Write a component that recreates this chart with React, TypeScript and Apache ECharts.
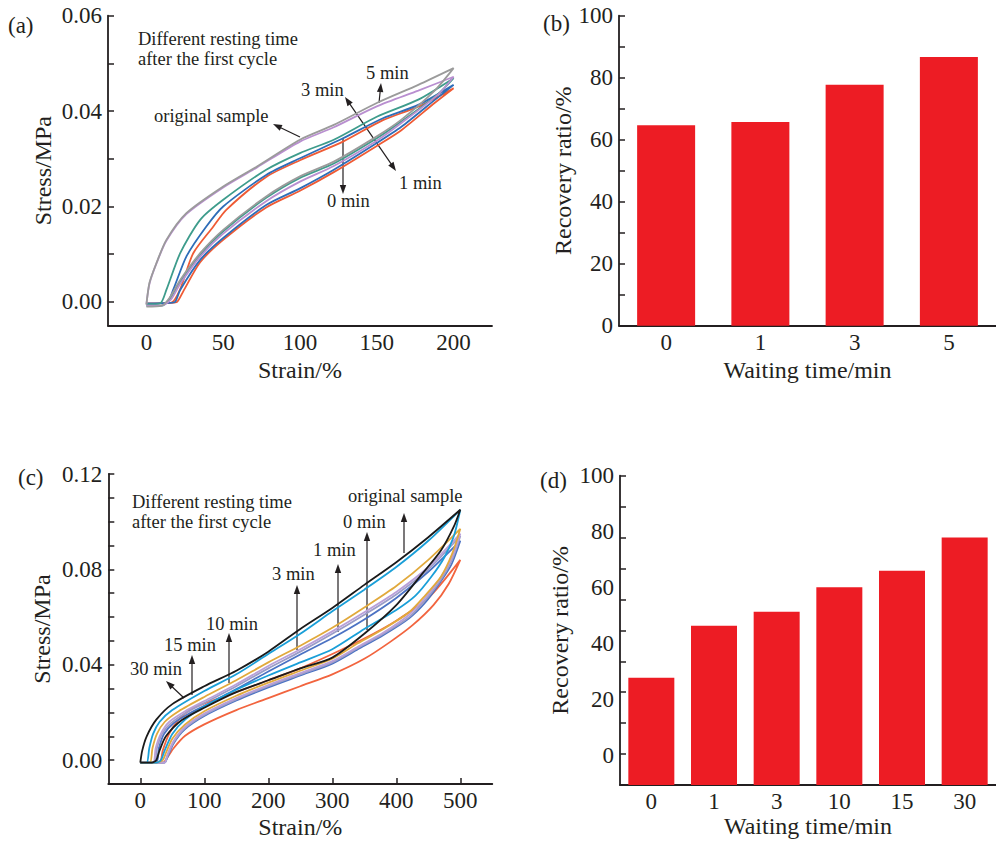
import { useEffect, useRef } from 'react';
import * as echarts from 'echarts';

const FONT = '"Liberation Serif", "Times New Roman", Times, serif';
const INK = '#231F20';
const BAR_RED = '#ED1C24';

// ---------- (a) stress-strain loops, 200 % strain ----------
const A_NAMES = ['original sample', '5 min', '3 min', '1 min', '0 min'];
const A_COLORS = ['#9B9B9B', '#B98FD0', '#3E9C8C', '#2E6DB8', '#EF5B35'];
const A_ORIGINAL = [[0, -0.0006], [2, 0.004], [6.5, 0.0081], [13, 0.013], [26, 0.0186], [50, 0.0242], [72, 0.0284], [100, 0.034], [122, 0.0371], [150, 0.0417], [177, 0.0455], [200, 0.049], [188, 0.0444], [166, 0.0382], [150, 0.0347], [122, 0.0294], [100, 0.0263], [78, 0.0221], [50, 0.0151], [35, 0.0102], [22, 0.0046], [15, 0.0008], [10, -0.0008], [0, -0.001]];
const A_5MIN = [[0, -0.0005], [2, 0.0038], [6.5, 0.008], [13, 0.0128], [26, 0.0184], [50, 0.024], [72, 0.0282], [100, 0.0336], [122, 0.0366], [150, 0.041], [177, 0.0443], [200, 0.0472], [190, 0.0435], [166, 0.0375], [150, 0.0338], [122, 0.0285], [100, 0.0252], [78, 0.0211], [50, 0.0143], [35, 0.0095], [22, 0.0038], [16, 0.0005], [10, -0.0008], [0, -0.0008]];
const A_3MIN = [[0, -0.0005], [9, -0.0003], [13, 0.0025], [22, 0.0102], [35, 0.0172], [50, 0.0214], [78, 0.0277], [100, 0.0312], [122, 0.034], [150, 0.0388], [177, 0.0424], [200, 0.0469], [190, 0.0436], [166, 0.0378], [150, 0.0343], [122, 0.029], [100, 0.026], [78, 0.0218], [50, 0.0148], [35, 0.0098], [22, 0.0042], [15, 0.0005], [10, -0.0008], [0, -0.0008]];
const A_1MIN = [[0, -0.0003], [13, -0.0002], [17.4, 0.0025], [26, 0.0095], [39, 0.0158], [50, 0.02], [78, 0.0266], [100, 0.0301], [128, 0.0343], [154, 0.0385], [177, 0.0413], [200, 0.0455], [188, 0.0424], [166, 0.0367], [150, 0.0333], [122, 0.0277], [100, 0.0238], [78, 0.0203], [50, 0.0134], [35, 0.0088], [22, 0.0025], [18.7, 0], [15, -0.0002], [0, -0.0003]];
const A_0MIN = [[0, -0.0003], [16, -0.0002], [21.8, 0.0025], [30.5, 0.0102], [43.6, 0.0158], [52, 0.0193], [78, 0.0262], [100, 0.0297], [128, 0.0336], [154, 0.0381], [177, 0.0409], [200, 0.0448], [188, 0.0418], [166, 0.036], [150, 0.0327], [122, 0.0272], [100, 0.0233], [78, 0.0198], [50, 0.013], [35, 0.0083], [24, 0.0022], [20, 0], [16, -0.0002], [0, -0.0003]];
const A_LOOPS = [A_ORIGINAL, A_5MIN, A_3MIN, A_1MIN, A_0MIN];
const A_X_LABELS = [0, 50, 100, 150, 200];
const A_Y_LABELS = [0, 0.02, 0.04, 0.06];
const A_Y_TICKS = [0, 0.01, 0.02, 0.03, 0.04, 0.05, 0.06];

// ---------- (b) recovery ratio, short rests ----------
const B_CATEGORIES = ['0', '1', '3', '5'];
const B_VALUES = [64.7, 65.7, 77.7, 86.7];
const B_Y_LABELS = [0, 20, 40, 60, 80, 100];

// ---------- (c) stress-strain loops, 500 % strain ----------
const C_NAMES = ['original sample', '30 min', '15 min', '10 min', '3 min', '1 min', '0 min'];
const C_COLORS = ['#1A1A1A', '#1A9FD8', '#E1A93C', '#B9A0D8', '#9A9CC8', '#4B72C3', '#F2643E'];
const C_ORIGINAL = [[0, -0.001], [3, 0.004], [10, 0.01], [25, 0.017], [50, 0.0235], [100, 0.031], [150, 0.0375], [200, 0.0455], [250, 0.055], [300, 0.0638], [350, 0.0735], [400, 0.083], [450, 0.0935], [500, 0.105], [490, 0.098], [470, 0.088], [440, 0.078], [400, 0.065], [350, 0.053], [300, 0.043], [250, 0.0385], [200, 0.0335], [150, 0.0285], [100, 0.022], [65, 0.0168], [40, 0.01], [30, 0.004], [25, 0], [18, -0.001], [0, -0.001]];
const C_30MIN = [[0, -0.001], [10, -0.001], [14, 0.005], [20, 0.011], [30, 0.016], [50, 0.021], [100, 0.029], [150, 0.036], [200, 0.0445], [250, 0.053], [300, 0.0624], [350, 0.0715], [400, 0.081], [450, 0.092], [500, 0.105], [490, 0.094], [475, 0.085], [455, 0.077], [430, 0.069], [400, 0.063], [350, 0.055], [300, 0.0465], [250, 0.041], [200, 0.0355], [150, 0.0295], [100, 0.0225], [70, 0.017], [50, 0.011], [38, 0.004], [32, 0], [25, -0.001], [10, -0.001]];
const C_15MIN = [[0, -0.001], [15, -0.001], [19, 0.005], [26, 0.011], [38, 0.016], [60, 0.0205], [100, 0.0265], [150, 0.0335], [200, 0.041], [250, 0.048], [300, 0.0555], [350, 0.064], [400, 0.073], [450, 0.084], [500, 0.097], [488, 0.087], [470, 0.077], [445, 0.069], [420, 0.062], [380, 0.055], [340, 0.049], [300, 0.0425], [250, 0.0375], [200, 0.0325], [150, 0.027], [100, 0.0205], [70, 0.015], [50, 0.009], [40, 0.003], [35, 0], [25, -0.001], [15, -0.001]];
const C_10MIN = [[0, -0.001], [20, -0.001], [24, 0.005], [32, 0.011], [45, 0.016], [70, 0.0205], [100, 0.0248], [150, 0.0318], [200, 0.0395], [250, 0.0465], [300, 0.054], [350, 0.062], [400, 0.0705], [450, 0.081], [500, 0.095], [487, 0.085], [468, 0.076], [445, 0.068], [420, 0.061], [380, 0.0535], [340, 0.0475], [300, 0.0415], [250, 0.0365], [200, 0.0315], [150, 0.026], [100, 0.0195], [70, 0.014], [52, 0.008], [42, 0.002], [38, -0.001], [20, -0.001]];
const C_3MIN = [[0, -0.001], [22, -0.001], [26, 0.005], [34, 0.011], [48, 0.0155], [72, 0.02], [100, 0.024], [150, 0.031], [200, 0.0385], [250, 0.0455], [300, 0.053], [350, 0.061], [400, 0.0695], [450, 0.08], [500, 0.094], [487, 0.084], [468, 0.075], [445, 0.067], [420, 0.06], [380, 0.053], [340, 0.047], [300, 0.041], [250, 0.036], [200, 0.031], [150, 0.0255], [100, 0.019], [70, 0.0135], [52, 0.0075], [42, 0.0015], [38, -0.001], [22, -0.001]];
const C_1MIN = [[0, -0.001], [25, -0.001], [29, 0.005], [37, 0.011], [52, 0.0155], [76, 0.0195], [100, 0.0228], [150, 0.0298], [200, 0.0372], [250, 0.0443], [300, 0.0512], [350, 0.059], [400, 0.068], [450, 0.079], [500, 0.092], [486, 0.082], [467, 0.074], [445, 0.066], [420, 0.0595], [380, 0.0525], [340, 0.0465], [300, 0.0405], [250, 0.0355], [200, 0.0305], [150, 0.025], [100, 0.0185], [70, 0.013], [52, 0.007], [42, 0.001], [38, -0.001], [25, -0.001]];
const C_0MIN = [[0, -0.001], [30, -0.001], [35, 0.004], [45, 0.011], [60, 0.017], [80, 0.0215], [100, 0.0238], [150, 0.0285], [200, 0.0335], [250, 0.0385], [300, 0.0445], [350, 0.051], [400, 0.0585], [450, 0.068], [500, 0.084], [482, 0.074], [458, 0.065], [425, 0.0565], [390, 0.0495], [350, 0.0425], [300, 0.036], [250, 0.031], [200, 0.026], [150, 0.021], [100, 0.015], [70, 0.0102], [52, 0.005], [42, 0.001], [36, -0.001], [30, -0.001]];
const C_LOOPS = [C_ORIGINAL, C_30MIN, C_15MIN, C_10MIN, C_3MIN, C_1MIN, C_0MIN];
const C_X_LABELS = [0, 100, 200, 300, 400, 500];
const C_Y_LABELS = [0, 0.04, 0.08, 0.12];

// ---------- (d) recovery ratio, long rests ----------
const D_CATEGORIES = ['0', '1', '3', '10', '15', '30'];
const D_VALUES = [34.7, 51.5, 56.0, 63.9, 69.3, 80.0];
const D_Y_LABELS = [0, 20, 40, 60, 80, 100];

const axisLineStyle = { color: INK, width: 1.8 };
const labelStyle = { fontFamily: FONT, fontSize: 23, color: INK };
const nameStyle = { fontFamily: FONT, fontSize: 24, color: INK };

function arrow(x1: number, y1: number, x2: number, y2: number, both = false) {
  const els: any[] = [];
  const dx = x2 - x1;
  const dy = y2 - y1;
  const len = Math.hypot(dx, dy);
  const ux = dx / len;
  const uy = dy / len;
  const L = 9;
  const W = 3.2;
  const head = (tx: number, ty: number, vx: number, vy: number) => {
    const bx = tx - vx * L;
    const by = ty - vy * L;
    return {
      type: 'polygon',
      silent: true,
      shape: { points: [[tx, ty], [bx - vy * W, by + vx * W], [bx + vy * W, by - vx * W]] },
      style: { fill: INK },
    };
  };
  const sx = both ? x1 + ux * (L - 1) : x1;
  const sy = both ? y1 + uy * (L - 1) : y1;
  els.push({
    type: 'line',
    silent: true,
    shape: { x1: sx, y1: sy, x2: x2 - ux * (L - 1), y2: y2 - uy * (L - 1) },
    style: { stroke: INK, lineWidth: 1.2 },
  });
  els.push(head(x2, y2, ux, uy));
  if (both) els.push(head(x1, y1, -ux, -uy));
  return els;
}

function note(text: string, x: number, y: number, size = 18.5) {
  return {
    type: 'text',
    silent: true,
    x,
    y,
    style: { text, fontFamily: FONT, fontSize: size, fill: INK, align: 'left', verticalAlign: 'middle' },
  };
}

export default function App() {
  const ref = useRef<HTMLDivElement>(null);
  useEffect(() => {
    document.body.style.margin = '0';
    if (!ref.current) return;
    const chart = echarts.init(ref.current, undefined, { renderer: 'svg' });

    const lineSeries = (loops: number[][][], names: string[], colors: string[], axis: number) =>
      loops.map((d, i) => ({
        type: 'line',
        name: names[i],
        xAxisIndex: axis,
        yAxisIndex: axis,
        data: d,
        showSymbol: false,
        smooth: 0.25,
        lineStyle: { color: colors[i], width: 1.8 },
        itemStyle: { color: colors[i] },
        silent: true,
        z: 2 + (loops.length - i),
      }));

    const graphics: any[] = [
      note('(a)', 8, 25, 23),
      note('(b)', 543, 23, 23),
      note('(c)', 18, 477, 23),
      note('(d)', 540, 480, 23),
      // (a)
      note('Different resting time', 138, 39),
      note('after the first cycle', 138, 59),
      note('5 min', 366, 73),
      note('3 min', 301, 90),
      note('original sample', 154, 116),
      note('1 min', 399, 183),
      note('0 min', 327, 201),
      ...arrow(379, 103, 381, 83),
      ...arrow(345, 97, 396, 171, true),
      ...arrow(300, 137, 273, 124),
      ...arrow(343, 138, 343, 194),
      // (c)
      note('Different resting time', 132, 502),
      note('after the first cycle', 132, 522),
      note('original sample', 348, 496),
      note('0 min', 343, 522),
      note('1 min', 313, 550),
      note('3 min', 272, 574),
      note('10 min', 206, 624),
      note('15 min', 164, 645),
      note('30 min', 130, 669),
      ...arrow(404, 553, 404, 513),
      ...arrow(367, 630, 367, 532),
      ...arrow(338, 632, 338, 564),
      ...arrow(297, 650, 297, 585),
      ...arrow(229, 683, 229, 633),
      ...arrow(192, 695, 192, 655),
      ...arrow(184, 698, 166, 681),
    ];

    const option: any = {
      animation: false,
      backgroundColor: '#ffffff',
      textStyle: { fontFamily: FONT },
      grid: [
        { left: 108, top: 15.7, width: 384, height: 310 },
        { left: 619, top: 15.7, width: 384, height: 310 },
        { left: 108.3, top: 474, width: 384, height: 310 },
        { left: 620, top: 475.7, width: 384, height: 309.3 },
      ],
      xAxis: [
        {
          gridIndex: 0, type: 'value', min: -25, max: 225,
          axisLine: { show: true, onZero: false, lineStyle: axisLineStyle },
          axisTick: { show: false },
          axisLabel: { ...labelStyle, margin: 5, customValues: A_X_LABELS },
          splitLine: { show: false },
          name: 'Strain/%', nameLocation: 'middle', nameGap: 32, nameTextStyle: nameStyle,
        },
        {
          gridIndex: 1, type: 'category', data: B_CATEGORIES,
          axisLine: { show: true, onZero: false, lineStyle: axisLineStyle },
          axisTick: { show: true, inside: true, alignWithLabel: true, length: 6, lineStyle: { color: INK, width: 1.5 } },
          axisLabel: { ...labelStyle, margin: 5 },
          name: 'Waiting time/min', nameLocation: 'middle', nameGap: 32, nameTextStyle: nameStyle,
        },
        {
          gridIndex: 2, type: 'value', min: -50, max: 550,
          axisLine: { show: true, onZero: false, lineStyle: axisLineStyle },
          axisTick: { show: true, inside: true, length: 6, customValues: C_X_LABELS, lineStyle: { color: INK, width: 1.5 } },
          axisLabel: { ...labelStyle, margin: 5, customValues: C_X_LABELS },
          splitLine: { show: false },
          name: 'Strain/%', nameLocation: 'middle', nameGap: 31, nameTextStyle: nameStyle,
        },
        {
          gridIndex: 3, type: 'category', data: D_CATEGORIES,
          axisLine: { show: true, onZero: false, lineStyle: axisLineStyle },
          axisTick: { show: true, inside: true, alignWithLabel: true, length: 6, lineStyle: { color: INK, width: 1.5 } },
          axisLabel: { ...labelStyle, margin: 5 },
          name: 'Waiting time/min', nameLocation: 'middle', nameGap: 29, nameTextStyle: nameStyle,
        },
      ],
      yAxis: [
        {
          gridIndex: 0, type: 'value', min: -0.005, max: 0.06, position: 'left',
          axisLine: { show: true, onZero: false, lineStyle: axisLineStyle },
          axisTick: { show: true, inside: true, length: 6, customValues: A_Y_TICKS, lineStyle: { color: INK, width: 1.5 } },
          axisLabel: { ...labelStyle, margin: 6, customValues: A_Y_LABELS, formatter: (v: number) => v.toFixed(2) },
          splitLine: { show: false },
          name: 'Stress/MPa', nameLocation: 'middle', nameGap: 53, nameTextStyle: nameStyle,
        },
        {
          gridIndex: 1, type: 'value', min: 0, max: 100, interval: 10, position: 'left',
          axisLine: { show: true, onZero: false, lineStyle: axisLineStyle },
          axisTick: { show: true, inside: true, length: 6, lineStyle: { color: INK, width: 1.5 } },
          axisLabel: { ...labelStyle, margin: 6, customValues: B_Y_LABELS },
          splitLine: { show: false },
          name: 'Recovery ratio/%', nameLocation: 'middle', nameGap: 31, nameTextStyle: nameStyle,
        },
        {
          gridIndex: 2, type: 'value', min: -0.01, max: 0.12, interval: 0.01, position: 'left',
          axisLine: { show: true, onZero: false, lineStyle: axisLineStyle },
          axisTick: { show: true, inside: true, length: 6, lineStyle: { color: INK, width: 1.5 } },
          axisLabel: { ...labelStyle, margin: 6, customValues: C_Y_LABELS, formatter: (v: number) => v.toFixed(2) },
          splitLine: { show: false },
          name: 'Stress/MPa', nameLocation: 'middle', nameGap: 54, nameTextStyle: nameStyle,
        },
        {
          gridIndex: 3, type: 'value', min: 0, max: 100, interval: 10, position: 'left',
          axisLine: { show: true, onZero: false, lineStyle: axisLineStyle },
          axisTick: { show: true, inside: true, length: 6, lineStyle: { color: INK, width: 1.5 } },
          axisLabel: { show: false },
          splitLine: { show: false },
          name: 'Recovery ratio/%', nameLocation: 'middle', nameGap: 48, nameTextStyle: nameStyle,
        },
        {
          gridIndex: 3, type: 'value', min: -10.74, max: 100, position: 'left',
          axisLine: { show: false },
          axisTick: { show: false },
          axisLabel: { ...labelStyle, margin: 6, customValues: D_Y_LABELS },
          splitLine: { show: false },
        },
      ],
      series: [
        ...lineSeries(A_LOOPS, A_NAMES, A_COLORS, 0),
        {
          type: 'bar', name: 'Recovery ratio (b)', xAxisIndex: 1, yAxisIndex: 1,
          data: B_VALUES, barWidth: 58, itemStyle: { color: BAR_RED }, silent: true,
        },
        ...lineSeries(C_LOOPS, C_NAMES, C_COLORS, 2),
        {
          type: 'bar', name: 'Recovery ratio (d)', xAxisIndex: 3, yAxisIndex: 3,
          data: D_VALUES, barWidth: 46, itemStyle: { color: BAR_RED }, silent: true,
        },
      ],
      graphic: { elements: graphics },
    };
    chart.setOption(option);
    return () => chart.dispose();
  }, []);
  return <div ref={ref} style={{ width: 996, height: 842 }} />;
}
